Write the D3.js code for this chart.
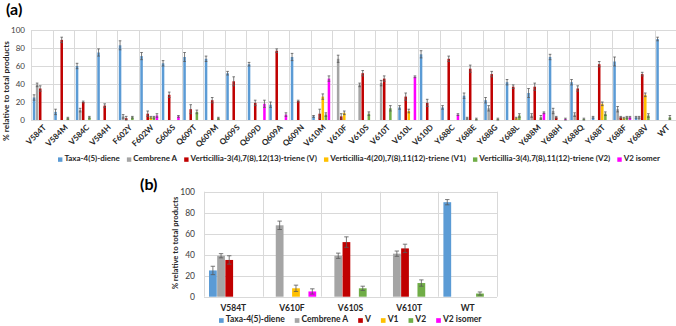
<!DOCTYPE html>
<html>
<head>
<meta charset="utf-8">
<script src="https://cdn.jsdelivr.net/npm/d3@7"></script>
<style>
  body { margin: 0; background: #fff; }
  svg { display: block; font-family: Lato, "Open Sans", sans-serif; }
  .grid line { stroke: #d9d9d9; stroke-width: 1; }
  .tick-y { font-size: 8px; fill: #404040; }
</style>
</head>
<body>
<script>
// ---- data ----
var seriesNames = ["Taxa-4(5)-diene", "Cembrene A",
  "Verticillia-3(4),7(8),12(13)-triene (V)",
  "Verticillia-4(20),7(8),11(12)-triene (V1)",
  "Verticillia-3(4),7(8),11(12)-triene (V2)",
  "V2 isomer"];
var seriesShort = ["Taxa-4(5)-diene", "Cembrene A", "V", "V1", "V2", "V2 isomer"];
var colors = ["#5b9bd5", "#a5a5a5", "#c00000", "#ffc000", "#70ad47", "#ff00ff"];

var mutantsA = ["V584T", "V584M", "V584C", "V584H", "F602Y", "F602W", "G606S",
  "Q609T", "Q609M", "Q609S", "Q609D", "Q609A", "Q609N", "V610M", "V610F",
  "V610S", "V610T", "V610L", "V610D", "Y688C", "Y688E", "Y688G", "Y688L",
  "Y688M", "Y688H", "Y688Q", "Y688T", "Y688F", "Y688V", "WT"];

// one row per mutant: taxa, cembrene, V, V1, V2, V2 isomer
var valuesA = [
  [25, 39, 35, 0, 0, 0], [9, 0, 89, 0, 2, 0], [60, 11, 20, 0, 3, 0],
  [75, 0, 16, 0, 0, 0], [83, 4, 2, 0, 3, 0], [71, 0, 7, 3, 3, 5],
  [63, 0, 28, 0, 0, 4], [70, 0, 12, 0, 9, 0], [68, 0, 22, 0, 2, 0],
  [52, 0, 43, 0, 0, 0], [62, 0, 19, 0, 0, 18], [17, 0, 77, 0, 0, 6],
  [70, 0, 21, 0, 0, 0], [4, 0, 7, 26, 6, 46], [0, 68, 4, 8, 0, 0],
  [0, 39, 52, 0, 7, 0], [0, 41, 46, 0, 13, 0], [14, 0, 26, 10, 0, 48],
  [73, 0, 19, 0, 0, 0], [14, 0, 68, 0, 0, 6], [27, 2, 57, 0, 1, 0],
  [22, 13, 51, 0, 1, 0], [42, 0, 37, 2, 5, 0], [30, 5, 37, 0, 3, 8],
  [70, 10, 3, 0, 0, 1], [42, 6, 35, 0, 1, 0], [3, 0, 62, 18, 7, 0],
  [65, 12, 3, 2, 3, 3], [3, 3, 51, 28, 5, 0], [90, 0, 0, 0, 3, 0]
];
var errorsA = [
  [3, 2, 3, 0, 0, 0], [3, 0, 3, 0, 1, 0], [3, 2, 1, 0, 1, 0],
  [4, 0, 2, 0, 0, 0], [5, 2, 2, 0, 1, 0], [4, 0, 3, 1, 1, 2],
  [3, 0, 3, 0, 0, 1], [5, 0, 5, 0, 2, 0], [3, 0, 3, 0, 1, 0],
  [2, 0, 5, 0, 0, 0], [2, 0, 3, 0, 0, 4], [3, 0, 2, 0, 0, 2],
  [4, 0, 1, 0, 0, 0], [1, 0, 5, 3, 2, 3], [0, 4, 3, 2, 0, 0],
  [0, 2, 3, 0, 2, 0], [0, 3, 3, 0, 3, 0], [2, 0, 4, 2, 0, 1],
  [4, 0, 4, 0, 0, 0], [2, 0, 3, 0, 0, 1], [3, 1, 4, 0, 1, 0],
  [3, 3, 3, 0, 1, 0], [3, 0, 2, 1, 2, 0], [5, 2, 4, 0, 2, 1],
  [3, 3, 1, 0, 0, 1], [3, 2, 3, 0, 1, 0], [1, 0, 3, 2, 2, 0],
  [5, 3, 1, 1, 1, 1], [1, 1, 2, 2, 2, 0], [2, 0, 0, 0, 2, 0]
];

var mutantsB = ["V584T", "V610F", "V610S", "V610T", "WT"];
var valuesB = [
  [25, 39, 35, 0, 0, 0], [0, 68, 0, 8, 0, 5], [0, 39, 52, 0, 8, 0],
  [0, 41, 46, 0, 13, 0], [90, 0, 0, 0, 3, 0]
];
var errorsB = [
  [4, 2, 4, 0, 0, 0], [0, 4, 0, 3, 0, 2.5], [0, 2.5, 5, 0, 2, 0],
  [0, 2.5, 4, 0, 3, 0], [2.5, 0, 0, 0, 1.5, 0]
];
var yTicks = [0, 20, 40, 60, 80, 100];

var svg = d3.select("body").append("svg")
  .attr("width", 676).attr("height", 326);

// draws one grouped bar panel
function drawPanel(opt) {
  var x = d3.scaleBand().domain(opt.cats).range([opt.left, opt.right]);
  var y = d3.scaleLinear().domain([0, 100]).range([opt.bottom, opt.top]);
  var xs = d3.scaleBand().domain(d3.range(6))
    .range([opt.pad, x.bandwidth() - opt.pad]).paddingInner(opt.inner);

  var g = svg.append("g");

  // horizontal gridlines
  g.append("g").attr("class", "grid").selectAll("line")
    .data(yTicks).enter().append("line")
    .attr("x1", opt.left).attr("x2", opt.right)
    .attr("y1", function(d) { return Math.round(y(d)) + 0.5; })
    .attr("y2", function(d) { return Math.round(y(d)) + 0.5; });

  // vertical category separators
  g.append("g").attr("class", "grid").selectAll("line")
    .data(opt.cats.concat(["__end"])).enter().append("line")
    .attr("x1", function(d, i) { return Math.round(opt.left + i * x.step()) + 0.5; })
    .attr("x2", function(d, i) { return Math.round(opt.left + i * x.step()) + 0.5; })
    .attr("y1", y(100)).attr("y2", y(0));

  // y tick labels
  g.selectAll(".tick-y").data(yTicks).enter().append("text")
    .attr("class", "tick-y")
    .attr("x", opt.left - opt.tickGap).attr("y", function(d) { return y(d); })
    .attr("dy", "0.35em").attr("text-anchor", "end")
    .style("font-size", opt.tickSize + "px")
    .text(function(d) { return d; });

  // bars
  var groups = g.selectAll(".cat").data(opt.cats).enter().append("g")
    .attr("transform", function(d) { return "translate(" + x(d) + ",0)"; });

  groups.each(function(cat, ci) {
    var cg = d3.select(this);
    var vals = opt.values[ci], errs = opt.errors[ci];
    d3.range(6).forEach(function(si) {
      var v = vals[si];
      if (v <= 0) return;
      cg.append("rect")
        .attr("x", xs(si)).attr("width", xs.bandwidth())
        .attr("y", y(v)).attr("height", y(0) - y(v))
        .attr("fill", colors[si]);
      var e = errs[si];
      if (e > 0) {
        var cx = xs(si) + xs.bandwidth() / 2;
        var lo = Math.max(0, v - e), hi = v + e;
        cg.append("path")
          .attr("d", "M" + cx + "," + y(lo) + "V" + y(hi) +
            "M" + (cx - opt.cap) + "," + y(hi) + "H" + (cx + opt.cap) +
            "M" + (cx - opt.cap) + "," + y(lo) + "H" + (cx + opt.cap))
          .attr("stroke", "#595959").attr("stroke-width", 0.8).attr("fill", "none");
      }
    });
  });

  // y axis title
  svg.append("text")
    .attr("transform", "translate(" + opt.titleX + "," + opt.titleY + ") rotate(-90)")
    .attr("text-anchor", "middle")
    .style("font-size", opt.titleSize + "px").style("font-weight", "bold")
    .attr("fill", "#262626")
    .text("% relative to total products");

  return { x: x, y: y };
}

// legend laid out left to right from measured widths
function drawLegend(names, x0, y0, size, gap) {
  var lg = svg.append("g");
  var cur = x0;
  names.forEach(function(n, i) {
    lg.append("rect").attr("x", cur).attr("y", y0 - size * 0.45)
      .attr("width", size * 0.55).attr("height", size * 0.55)
      .attr("fill", colors[i]);
    var t = lg.append("text").attr("x", cur + size * 0.8).attr("y", y0)
      .attr("dy", "0.05em")
      .style("font-size", size + "px").style("font-weight", "bold")
      .attr("fill", "#262626").text(n);
    cur += size * 0.8 + t.node().getComputedTextLength() + gap;
  });
}

// ---- panel (a) ----
var pa = drawPanel({
  cats: mutantsA, values: valuesA, errors: errorsA,
  left: 31, right: 676, top: 30, bottom: 120,
  pad: 1.8, inner: 0.18, cap: 1.3, tickSize: 8, tickGap: 6,
  titleX: 9, titleY: 91, titleSize: 8.3
});

svg.append("g").selectAll("text").data(mutantsA).enter().append("text")
  .attr("transform", function(d) {
    return "translate(" + (pa.x(d) + pa.x.bandwidth() / 2 + 3) + ",126) rotate(-45)";
  })
  .attr("text-anchor", "end").attr("dy", "0.35em")
  .style("font-size", "8px").style("font-weight", "bold").attr("fill", "#262626")
  .text(function(d) { return d; });

drawLegend(seriesNames, 58, 161, 8, 7);

svg.append("text").attr("x", 6).attr("y", 15)
  .style("font-size", "16px").style("font-weight", "bold").text("(a)");

// ---- panel (b) ----
var pb = drawPanel({
  cats: mutantsB, values: valuesB, errors: errorsB,
  left: 204, right: 497, top: 191.7, bottom: 296.7,
  pad: 5, inner: 0.05, cap: 2.2, tickSize: 8.5, tickGap: 9,
  titleX: 178, titleY: 243, titleSize: 7.7
});

svg.append("g").selectAll("text").data(mutantsB).enter().append("text")
  .attr("x", function(d) { return pb.x(d) + pb.x.bandwidth() / 2; })
  .attr("y", 308).attr("dy", "0.35em").attr("text-anchor", "middle")
  .style("font-size", "8.5px").style("font-weight", "bold").attr("fill", "#262626")
  .text(function(d) { return d; });

drawLegend(seriesShort, 219, 322, 8.5, 10);

svg.append("text").attr("x", 140).attr("y", 190)
  .style("font-size", "16px").style("font-weight", "bold").text("(b)");
</script>
</body>
</html>
